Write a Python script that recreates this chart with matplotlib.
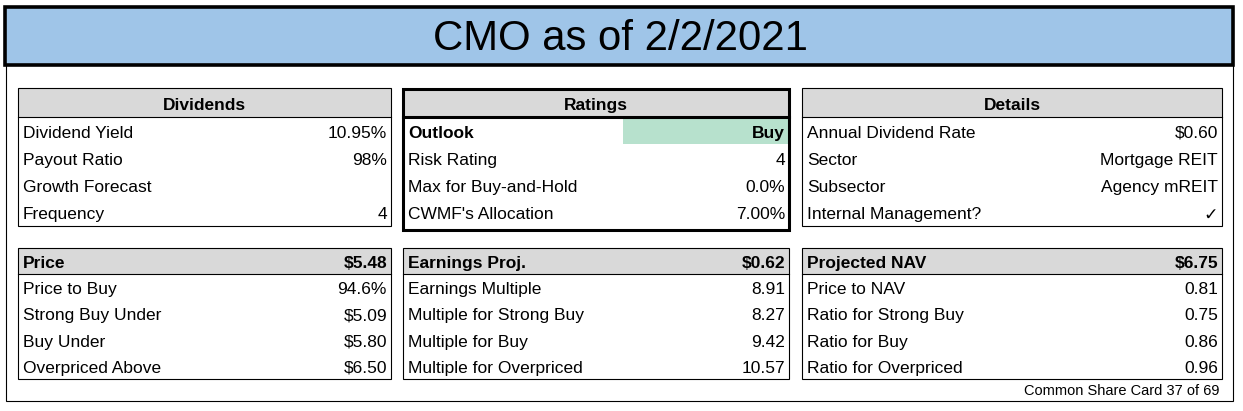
import numpy as np
import matplotlib
matplotlib.use("Agg")
import matplotlib.pyplot as plt
from matplotlib.patches import Rectangle

plt.rcParams['font.family'] = ['Liberation Sans', 'DejaVu Sans']

# card content
title = "CMO as of 2/2/2021"
footer = "Common Share Card 37 of 69"

dividends_labels = ["Dividend Yield", "Payout Ratio", "Growth Forecast", "Frequency"]
dividends_values = ["10.95%", "98%", "", "4"]

ratings_labels = ["Outlook", "Risk Rating", "Max for Buy-and-Hold", "CWMF's Allocation"]
ratings_values = ["Buy", "4", "0.0%", "7.00%"]

details_labels = ["Annual Dividend Rate", "Sector", "Subsector", "Internal Management?"]
details_values = ["$0.60", "Mortgage REIT", "Agency mREIT", "\u2713"]

price_head = ("Price", "$5.48")
price_labels = ["Price to Buy", "Strong Buy Under", "Buy Under", "Overpriced Above"]
price_values = ["94.6%", "$5.09", "$5.80", "$6.50"]

earnings_head = ("Earnings Proj.", "$0.62")
earnings_labels = ["Earnings Multiple", "Multiple for Strong Buy", "Multiple for Buy",
                   "Multiple for Overpriced"]
earnings_values = ["8.91", "8.27", "9.42", "10.57"]

nav_head = ("Projected NAV", "$6.75")
nav_labels = ["Price to NAV", "Ratio for Strong Buy", "Ratio for Buy", "Ratio for Overpriced"]
nav_values = ["0.81", "0.75", "0.86", "0.96"]

W, H = 1243, 411
GRAY = "#d9d9d9"
BLUE = "#9fc5e8"
GREEN = "#b7e1cd"
FS = 12.5
THIN = 0.8
THICK = 2.2
DY = 2.5  # nudge text down so the glyphs sit in the middle of each row

fig = plt.figure(figsize=(W / 100, H / 100), dpi=100)
ax = fig.add_axes([0, 0, 1, 1])
ax.set_xlim(0, W)
ax.set_ylim(H, 0)
ax.axis("off")


def rect(x0, y0, x1, y1, fc="none", lw=THIN, z=1):
    ax.add_patch(Rectangle((x0, y0), x1 - x0, y1 - y0, facecolor=fc,
                           edgecolor="black" if lw else "none", linewidth=lw, zorder=z))


def card(x0, x1, y0, yh, y1, labels, values, head=None, head_pair=None,
         lw=THIN, bold_first=False, highlight=None, rows_end=None):
    if rows_end is None:
        rows_end = y1
    edges = np.linspace(yh, rows_end, len(labels) + 1)
    rect(x0, y0, x1, yh, fc=GRAY, lw=0, z=1)
    if highlight is not None:
        ax.add_patch(Rectangle((highlight, edges[0]), x1 - highlight, edges[1] - edges[0],
                               facecolor=GREEN, edgecolor="none", zorder=1))
    ax.plot([x0, x1], [yh, yh], color="black", lw=lw, zorder=3)
    rect(x0, y0, x1, y1, lw=lw, z=3)
    hy = (y0 + yh) / 2 + DY
    if head is not None:
        ax.text((x0 + x1) / 2, hy, head, ha="center", va="center", fontsize=FS,
                fontweight="bold", zorder=4)
    if head_pair is not None:
        ax.text(x0 + 5, hy, head_pair[0], ha="left", va="center", fontsize=FS,
                fontweight="bold", zorder=4)
        ax.text(x1 - 4, hy, head_pair[1], ha="right", va="center", fontsize=FS,
                fontweight="bold", zorder=4)
    for i, (lab, val) in enumerate(zip(labels, values)):
        cy = (edges[i] + edges[i + 1]) / 2 + DY
        fw = "bold" if (bold_first and i == 0) else "normal"
        ax.text(x0 + 5, cy, lab, ha="left", va="center", fontsize=FS, fontweight=fw, zorder=4)
        ax.text(x1 - 4, cy, val, ha="right", va="center", fontsize=FS, fontweight=fw, zorder=4)


# outer frame and title bar
rect(6, 7, 1233, 401, lw=THIN, z=0)
rect(5, 7, 1233, 65, fc=BLUE, lw=2.6, z=2)
ax.text(620, 37 + DY, title, ha="center", va="center", fontsize=30.2, zorder=4)

cols = [(18, 391), (403, 789), (802, 1222)]

card(*cols[0], 88, 117, 226, dividends_labels, dividends_values, head="Dividends")
card(*cols[1], 89, 117, 230, ratings_labels, ratings_values, head="Ratings",
     lw=THICK, bold_first=True, highlight=623, rows_end=225)
card(*cols[2], 88, 117, 226, details_labels, details_values, head="Details")

card(*cols[0], 248, 274, 379, price_labels, price_values, head_pair=price_head)
card(*cols[1], 248, 274, 379, earnings_labels, earnings_values, head_pair=earnings_head)
card(*cols[2], 248, 274, 379, nav_labels, nav_values, head_pair=nav_head)

ax.text(1220, 389 + 1.5, footer, ha="right", va="center", fontsize=10.5, zorder=4)

fig.savefig("out.png", dpi=100)
